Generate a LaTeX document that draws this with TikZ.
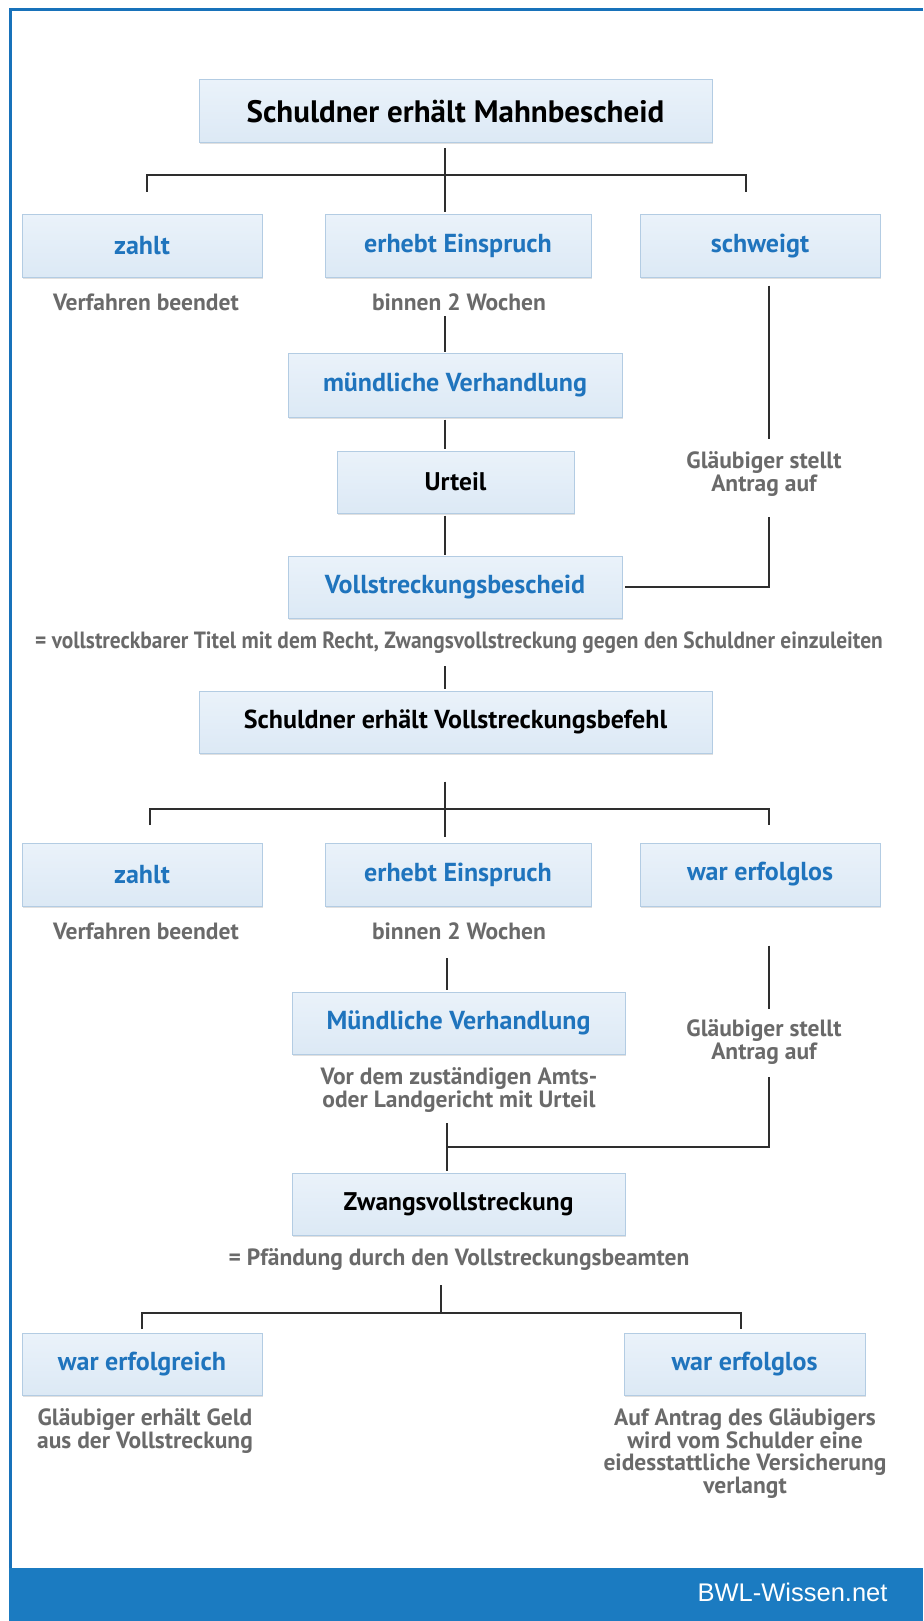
\documentclass[tikz,border=0pt]{standalone}
\usepackage{fontspec}
\setmainfont{PT Sans}
\newfontfamily\arialfont{Liberation Sans}
\usetikzlibrary{shadows}
\definecolor{frameblue}{HTML}{1872BA}
\definecolor{barblue}{HTML}{1B7BC1}
\definecolor{boxtop}{HTML}{EAF2FA}
\definecolor{boxbot}{HTML}{DCE9F5}
\definecolor{boxline}{HTML}{B3CCE3}
\definecolor{textblue}{HTML}{1F74BD}
\definecolor{textgray}{HTML}{6A6A6A}
\definecolor{conn}{HTML}{2E2E2E}
\begin{document}
\begin{tikzpicture}[x=1pt,y=-1pt,
  box/.style={draw=boxline, line width=1pt, top color=boxtop, bottom color=boxbot,
    minimum height=62pt, inner sep=0pt,
    drop shadow={shadow xshift=1pt, shadow yshift=-1.5pt, fill=black!12, opacity=1}},
  bluetext/.style={text=textblue, font=\fontsize{26}{30}\selectfont\bfseries},
  blacktext/.style={text=black, font=\fontsize{25.5}{30}\selectfont\bfseries},
  graytext/.style={text=textgray, font=\fontsize{23.5}{23}\selectfont\bfseries, align=center, inner sep=0pt},
  conn/.style={draw=conn, line width=2pt}]
\useasboundingbox (0,0) rectangle (923,1621);
\fill[white] (0,0) rectangle (923,1621);
% frame
\draw[frameblue, line width=3pt] (923,10) -- (10,10) -- (10,1569);
\fill[barblue] (9,1568) rectangle (923,1621);
\node[anchor=east, text=white, font=\arialfont\fontsize{25.5}{30}\selectfont] (brand) at (891,1592) {BWL-Wissen.net};

% ---------- section 1 ----------
\node[box, minimum width=513pt, minimum height=63pt, text=black, font=\fontsize{31}{36}\selectfont\bfseries] (t1) at (455.5,111.5) {Schuldner erhält Mahnbescheid};
\node[box, minimum width=240pt, bluetext] (zahlt1) at (142,246) {zahlt};
\node[box, minimum width=266pt, bluetext] (einspr1) at (458,246) {erhebt Einspruch};
\node[box, minimum width=240pt, bluetext] (schweigt) at (760,246) {schweigt};
\node[graytext] (verf1) at (146,302) {Verfahren beendet};
\node[graytext] (binnen1) at (459,302) {binnen 2 Wochen};
\node[box, minimum width=334pt, minimum height=64pt, bluetext] (muendl1) at (455,385) {mündliche Verhandlung};
\node[box, minimum width=237pt, blacktext] (urteil) at (455.5,482) {Urteil};
\node[box, minimum width=334pt, bluetext] (vbescheid) at (455,587) {Vollstreckungsbescheid};
\node[graytext] (antrag1) at (764,474.5) {Gläubiger stellt\\Antrag auf};
\node[graytext] (titel) at (459,643) {\scalebox{0.91}[1]{= vollstreckbarer Titel mit dem Recht, Zwangsvollstreckung gegen den Schuldner einzuleiten}};
\node[box, minimum width=513pt, blacktext, font=\fontsize{26}{30}\selectfont\bfseries] (t2) at (455.5,722) {Schuldner erhält Vollstreckungsbefehl};

\coordinate (ax1) at (445,0);
\coordinate (bar1) at (0,175);
\coordinate (dl1) at (146.5,192);
\coordinate (dr1) at (746,192);
\coordinate (rx1) at (769,0);
\draw[conn] ([yshift=-5pt]t1.south -| ax1) -- ([yshift=2pt]einspr1.north -| ax1);
\draw[conn] (dl1) -- (dl1 |- bar1) -- (dr1 |- bar1) -- (dr1);
\draw[conn] ([yshift=-14pt]binnen1.center -| ax1) -- ([yshift=1pt]muendl1.north -| ax1);
\draw[conn] ([yshift=-2pt]muendl1.south -| ax1) -- ([yshift=2pt]urteil.north -| ax1);
\draw[conn] ([yshift=-2pt]urteil.south -| ax1) -- ([yshift=1pt]vbescheid.north -| ax1);
\draw[conn] ([yshift=-8pt]schweigt.south -| rx1) -- ([yshift=35.5pt]antrag1.center -| rx1);
\draw[conn] ([yshift=-42.5pt]antrag1.center -| rx1) |- ([xshift=2pt]vbescheid.east);
\draw[conn] ([yshift=-23pt]titel.center -| ax1) -- ([yshift=2pt]t2.north -| ax1);

% ---------- section 2 ----------
\node[box, minimum width=240pt, minimum height=63pt, bluetext] (zahlt2) at (142,874.5) {zahlt};
\node[box, minimum width=266pt, minimum height=63pt, bluetext] (einspr2) at (458,874.5) {erhebt Einspruch};
\node[box, minimum width=240pt, minimum height=63pt, bluetext] (erfolglos1) at (760,874.5) {war erfolglos};
\node[graytext] (verf2) at (146,931) {Verfahren beendet};
\node[graytext] (binnen2) at (459,931) {binnen 2 Wochen};
\node[box, minimum width=333pt, bluetext] (muendl2) at (458.5,1023) {Mündliche Verhandlung};
\node[graytext] (vor) at (459,1090) {Vor dem zuständigen Amts-\\oder Landgericht mit Urteil};
\node[graytext] (antrag2) at (764,1042) {Gläubiger stellt\\Antrag auf};
\node[box, minimum width=333pt, blacktext] (zwang) at (458.5,1204) {Zwangsvollstreckung};
\node[graytext] (pfaend) at (459,1260) {= Pfändung durch den Vollstreckungsbeamten};

\coordinate (bar2) at (0,809);
\coordinate (dl2) at (149.5,825);
\coordinate (dr2) at (769,825);
\coordinate (ax2) at (447,0);
\coordinate (join2) at (0,1147);
\draw[conn] ([yshift=-28pt]t2.south -| ax1) -- ([yshift=6pt]einspr2.north -| ax1);
\draw[conn] (dl2) -- (dl2 |- bar2) -- (dr2 |- bar2) -- (dr2);
\draw[conn] ([yshift=-27pt]binnen2.center -| ax2) -- ([yshift=2pt]muendl2.north -| ax2);
\draw[conn] ([yshift=-33pt]vor.center -| ax2) -- ([yshift=2pt]zwang.north -| ax2);
\draw[conn] ([yshift=-39pt]erfolglos1.south -| rx1) -- ([yshift=33pt]antrag2.center -| rx1);
\draw[conn] ([yshift=-35pt]antrag2.center -| rx1) -- (rx1 |- join2) -- (ax2 |- join2);

% ---------- section 3 ----------
\node[box, minimum width=240pt, bluetext] (erfolgreich) at (142,1364) {war erfolgreich};
\node[box, minimum width=241pt, bluetext] (erfolglos2) at (744.5,1364) {war erfolglos};
\node[graytext] (geld) at (145,1431.5) {Gläubiger erhält Geld\\aus der Vollstreckung};
\node[graytext, font=\fontsize{23.5}{22.5}\selectfont\bfseries] (eides) at (745,1453.5) {Auf Antrag des Gläubigers\\wird vom Schulder eine\\eidesstattliche Versicherung\\verlangt};

\coordinate (ax3) at (441,0);
\coordinate (bar3) at (0,1313);
\coordinate (dl3) at (142,1329);
\coordinate (dr3) at (741,1329);
\draw[conn] ([yshift=-25pt]pfaend.center -| ax3) -- (ax3 |- bar3);
\draw[conn] (dl3) -- (dl3 |- bar3) -- (dr3 |- bar3) -- (dr3);
\end{tikzpicture}
\end{document}
